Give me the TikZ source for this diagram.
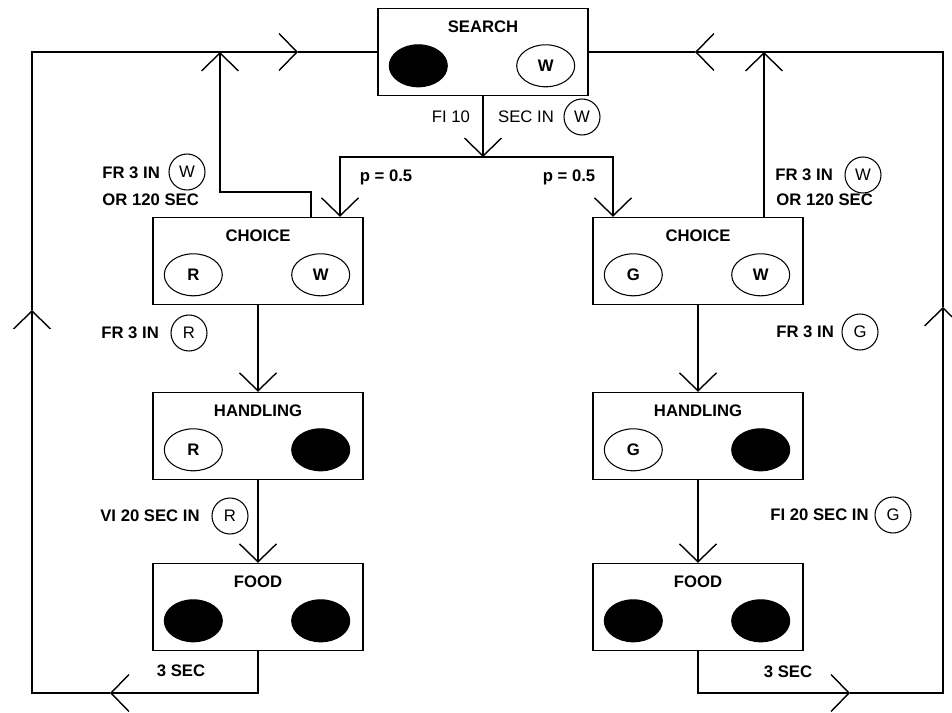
\documentclass[tikz,border=0pt]{standalone}
\usepackage{fontspec}
\setmainfont{Liberation Sans}
\usepackage{tikz}
\usetikzlibrary{arrows.meta,shapes,positioning}
\tikzstyle{stage}  =[rectangle, draw, line width=0.8pt,
                     minimum width=4.2cm, minimum height=1.74cm]
\tikzstyle{heading}=[inner sep=0pt, font=\fontsize{9.5}{11}\selectfont\bfseries]
\tikzstyle{stim}   =[ellipse, draw, line width=0.6pt,
                     minimum width=1.16cm, minimum height=0.84cm,
                     inner sep=0pt, font=\fontsize{9.5}{11}\selectfont\bfseries]
\tikzstyle{dark}   =[stim, fill=black]
\tikzstyle{ring}   =[circle, draw, line width=0.6pt, minimum size=0.72cm,
                     inner sep=0pt, font=\fontsize{9.5}{11}\selectfont]
\tikzstyle{cond}   =[inner sep=0pt, font=\fontsize{9.5}{11}\selectfont\bfseries]
\tikzstyle{link}   =[line width=0.8pt,
                     >={Straight Barb[length=3.6mm, width=7.4mm]}]

\begin{document}
\begin{tikzpicture}[on grid, node distance=1cm]
    \useasboundingbox (0,0) rectangle (19.04,-14.26);

    % boxes
    \node[stage] (s) at (9.66,-1.04) {};
    \node[stage] (cl) at (5.16,-5.22) {};
    \node[stage] (hl) [below=3.5cm of cl] {};
    \node[stage] (fl) [below=3.42cm of hl] {};
    \node[stage] (cr) [right=8.8cm of cl] {};
    \node[stage] (hr) [right=8.8cm of hl] {};
    \node[stage] (fr) [right=8.8cm of fl] {};

    % search
    \node[heading] (st) at ([yshift=-0.38cm]s.north) {SEARCH};
    \node[dark] (s1) at ([shift={(0.82,-1.16)}]s.north west) {};
    \node[stim] (s2) at ([shift={(-0.86,-1.16)}]s.north east) {W};

    % left side
    \node[heading] (clt) at ([yshift=-0.38cm]cl.north) {CHOICE};
    \node[stim] (cl1) at ([shift={(0.82,-1.16)}]cl.north west) {R};
    \node[stim] (cl2) at ([shift={(-0.86,-1.16)}]cl.north east) {W};
    \node[heading] (hlt) at ([yshift=-0.38cm]hl.north) {HANDLING};
    \node[stim] (hl1) at ([shift={(0.82,-1.16)}]hl.north west) {R};
    \node[dark] (hl2) at ([shift={(-0.86,-1.16)}]hl.north east) {};
    \node[heading] (flt) at ([yshift=-0.38cm]fl.north) {FOOD};
    \node[dark] (fl1) at ([shift={(0.82,-1.16)}]fl.north west) {};
    \node[dark] (fl2) at ([shift={(-0.86,-1.16)}]fl.north east) {};

    % right side
    \node[heading] (crt) at ([yshift=-0.38cm]cr.north) {CHOICE};
    \node[stim] (cr1) at ([shift={(0.82,-1.16)}]cr.north west) {G};
    \node[stim] (cr2) at ([shift={(-0.86,-1.16)}]cr.north east) {W};
    \node[heading] (hrt) at ([yshift=-0.38cm]hr.north) {HANDLING};
    \node[stim] (hr1) at ([shift={(0.82,-1.16)}]hr.north west) {G};
    \node[dark] (hr2) at ([shift={(-0.86,-1.16)}]hr.north east) {};
    \node[heading] (frt) at ([yshift=-0.38cm]fr.north) {FOOD};
    \node[dark] (fr1) at ([shift={(0.82,-1.16)}]fr.north west) {};
    \node[dark] (fr2) at ([shift={(-0.86,-1.16)}]fr.north east) {};

    % schedule labels
    \node[cond, font=\fontsize{9.5}{11}\selectfont] (fi) at (9.02,-2.34) {FI 10};
    \node[cond, font=\fontsize{9.5}{11}\selectfont] (fis) at (10.52,-2.34) {SEC IN};
    \node[ring] (fiw) at (11.64,-2.34) {W};
    \node[cond] (pl) at (7.72,-3.54) {p = 0.5};
    \node[cond] (pr) at (11.38,-3.54) {p = 0.5};
    \node[cond, anchor=west] (lw) at (2.04,-3.46) {FR 3 IN};
    \node[ring] (lwc) at (3.74,-3.44) {W};
    \node[cond, anchor=west] (lwt) at (2.04,-4.0) {OR 120 SEC};
    \node[cond, anchor=west] (rw) at (15.5,-3.5) {FR 3 IN};
    \node[ring] (rwc) at (17.26,-3.5) {W};
    \node[cond, anchor=west] (rwt) at (15.52,-4.0) {OR 120 SEC};
    \node[cond, anchor=west] (lr) at (2.02,-6.66) {FR 3 IN};
    \node[ring] (lrc) at (3.78,-6.66) {R};
    \node[cond, anchor=west] (lv) at (2.0,-10.32) {VI 20 SEC IN};
    \node[ring] (lvc) at (4.6,-10.32) {R};
    \node[cond, anchor=west] (rg) at (15.52,-6.64) {FR 3 IN};
    \node[ring] (rgc) at (17.2,-6.64) {G};
    \node[cond, anchor=west] (rv) at (15.4,-10.3) {FI 20 SEC IN};
    \node[ring] (rvc) at (17.86,-10.3) {G};
    \node[cond] (l3) at (3.62,-13.42) {3 SEC};
    \node[cond] (r3) at (15.76,-13.44) {3 SEC};

    % corners of the lines
    \coordinate (j) at (9.66,-3.14);
    \coordinate (jl) at (6.8,-3.14);
    \coordinate (jr) at (12.26,-3.14);
    \coordinate (kl) at (4.4,-3.84);
    \coordinate (ru) at ([xshift=1.32cm]cr.north);
    \coordinate (a1) at (2.2,-13.86);
    \coordinate (a2) at (0.64,-6.2);
    \coordinate (a3) at (5.96,-1.04);
    \coordinate (b1) at (17.0,-13.86);
    \coordinate (b2) at (18.86,-6.14);
    \coordinate (b3) at (13.9,-1.04);

    % search to choice
    \draw[link,->] (s) -- (j);
    \draw[link,->] (j) -- (jl) -- (jl |- cl.north);
    \draw[link,->] (j) -- (jr) -- (jr |- cr.north);

    % chains
    \draw[link,->] (cl) -- (hl);
    \draw[link,->] (hl) -- (fl);
    \draw[link,->] (cr) -- (hr);
    \draw[link,->] (hr) -- (fr);

    % back to search
    \draw[link,->] ([xshift=1.06cm]cl.north) |- (kl) -- (kl |- s.west);
    \draw[link,->] (ru) -- (ru |- s.east);
    \draw[link,->] (fl.south) |- (a1);
    \draw[link,->] (a1) -| (a2);
    \draw[link,->] (a2) |- (a3);
    \draw[link] (a3) -- (s.west);
    \draw[link,->] (fr.south) |- (b1);
    \draw[link,->] (b1) -| (b2);
    \draw[link,->] (b2) |- (b3);
    \draw[link] (b3) -- (s.east);
\end{tikzpicture}
\end{document}
